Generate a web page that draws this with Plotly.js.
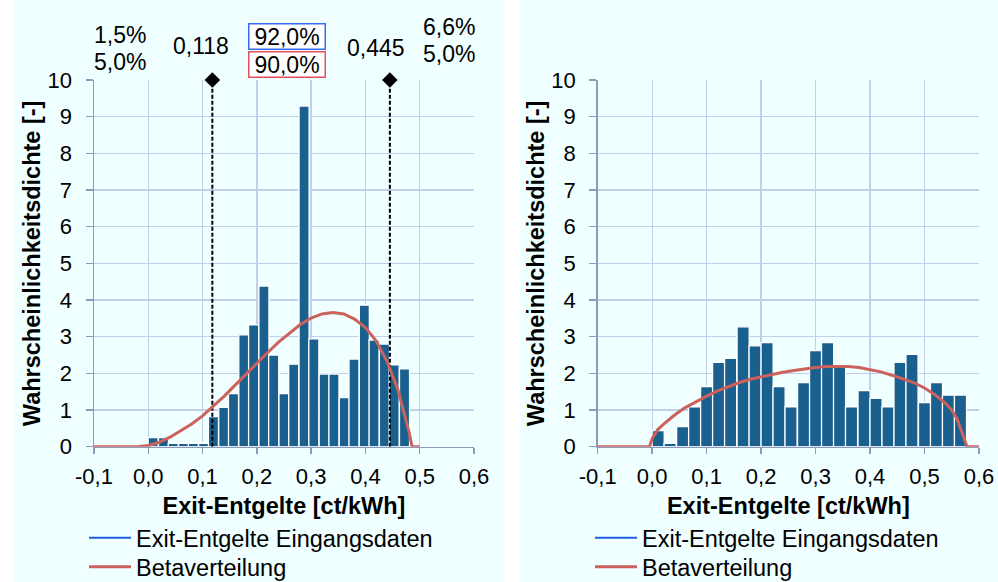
<!DOCTYPE html>
<html><head><meta charset="utf-8">
<script src="https://cdn.plot.ly/plotly-3.0.1.min.js"></script>
<style>
html,body{margin:0;padding:0;background:#fff}
#chart{width:998px;height:582px;
  background:linear-gradient(to right,#ffffff 0px,#ffffff 14px,#F0FFFF 14px,#F0FFFF 503px,#ffffff 503px,#ffffff 519px,#F0FFFF 519px,#F0FFFF 998px);}
</style>
</head><body><div id="chart"></div>
<script>
// ---------- data ----------
const binCentersL = [0.009,0.028,0.046,0.065,0.083,0.102,0.120,0.139,0.157,0.176,0.194,0.213,0.231,0.250,0.268,0.287,0.305,0.324,0.342,0.361,0.379,0.398,0.416,0.435,0.453,0.472];
const densityL    = [0.245,0.245,0.09,0.09,0.09,0.09,0.82,1.07,1.45,3.05,3.32,4.38,2.5,1.45,2.25,9.29,2.94,1.98,1.98,1.34,2.39,3.86,2.91,2.8,2.23,2.12];
const binCentersR = [0.011,0.033,0.056,0.078,0.100,0.122,0.144,0.167,0.189,0.211,0.233,0.255,0.278,0.300,0.322,0.344,0.366,0.389,0.411,0.433,0.455,0.477,0.500,0.522,0.544,0.566];
const densityR    = [0.44,0.09,0.55,1.09,1.64,2.3,2.41,3.27,2.75,2.84,1.64,1.09,1.75,2.62,2.84,2.18,1.09,1.53,1.32,1.09,2.3,2.52,1.2,1.75,1.41,1.41];
const betaLx = [-0.1,-0.02,0,0.02,0.04,0.06,0.08,0.10,0.12,0.14,0.16,0.18,0.20,0.22,0.24,0.26,0.28,0.30,0.32,0.34,0.36,0.38,0.40,0.42,0.44,0.46,0.47,0.48,0.486,0.5];
const betaLy = [0,0,0.03,0.12,0.26,0.43,0.62,0.84,1.1,1.38,1.68,1.98,2.27,2.57,2.85,3.1,3.33,3.51,3.62,3.66,3.62,3.48,3.25,2.88,2.32,1.55,1.02,0.42,0,0];
const betaRx = [-0.1,-0.005,0,0.005,0.01,0.02,0.04,0.06,0.08,0.10,0.12,0.14,0.16,0.18,0.20,0.22,0.24,0.26,0.28,0.30,0.32,0.34,0.36,0.38,0.40,0.42,0.44,0.46,0.48,0.50,0.52,0.54,0.55,0.56,0.565,0.57,0.575,0.578,0.6];
const betaRy = [0,0,0.22,0.36,0.46,0.6,0.85,1.06,1.23,1.38,1.52,1.64,1.75,1.84,1.91,1.97,2.03,2.08,2.13,2.16,2.19,2.2,2.19,2.16,2.11,2.04,1.95,1.86,1.75,1.6,1.41,1.16,1.0,0.75,0.55,0.32,0.12,0,0];
const quantX = [0.118, 0.445];
const quantLabels = ['0,118', '0,445'];
const tailLeft = ['1,5%', '5,0%'];
const tailRight = ['6,6%', '5,0%'];
const centralShares = ['92,0%', '90,0%'];
const seriesNames = ['Exit-Entgelte Eingangsdaten', 'Betaverteilung'];
const xTickVals = [-0.1, 0, 0.1, 0.2, 0.3, 0.4, 0.5, 0.6];
const xTickText = ['-0,1', '0,0', '0,1', '0,2', '0,3', '0,4', '0,5', '0,6'];
const xTitle = 'Exit-Entgelte [ct/kWh]';
const yTitle = 'Wahrscheinlichkeitsdichte [-]';
const yRange = [0, 10];
const xRange = [-0.1, 0.6];

// ---------- style ----------
const W = 998, H = 582;
const px = v => v / W, py = v => 1 - v / H;
const FONT = 'Liberation Sans, Arial, sans-serif';
const barColor = '#19608E', curveColor = '#CC625C', legendBlue = '#1F5FE6';
const gridC = '#C3CEE8', axisC = '#8C9BB9';

function xAxis(domain, anchor) {
  return {domain, anchor, range: xRange, tickmode: 'array', tickvals: xTickVals, ticktext: xTickText,
    showgrid: true, gridcolor: gridC, gridwidth: 1.3, zeroline: false,
    showline: true, linecolor: axisC, linewidth: 1.5, ticks: 'outside', ticklen: 6, tickcolor: axisC, tickwidth: 1.5,
    tickfont: {size: 22, color: '#000', family: FONT}, ticklabelstandoff: 3,
    title: {text: xTitle, font: {size: 23.5, weight: 700, color: '#000', family: FONT}, standoff: 10},
    fixedrange: true, automargin: false};
}
function yAxis(domain, anchor) {
  return {domain, anchor, range: yRange, dtick: 1,
    showgrid: true, gridcolor: gridC, gridwidth: 1.3, zeroline: false,
    showline: true, linecolor: axisC, linewidth: 1.5, ticks: 'outside', ticklen: 7, tickcolor: axisC, tickwidth: 1.5,
    tickfont: {size: 22, color: '#000', family: FONT}, ticklabelstandoff: 9,
    title: {text: yTitle, font: {size: 23.5, weight: 700, color: '#000', family: FONT}, standoff: 0},
    fixedrange: true, automargin: false};
}

const traces = [];
// left panel
traces.push({type: 'bar', x: binCentersL, y: densityL, width: 0.0185, xaxis: 'x', yaxis: 'y',
  marker: {color: barColor, line: {color: '#FFFFFF', width: 1.3}}, showlegend: false, hoverinfo: 'x+y'});
quantX.forEach(q => traces.push({type: 'scatter', mode: 'lines', x: [q, q], y: yRange, xaxis: 'x', yaxis: 'y',
  line: {color: '#000', width: 2, dash: '4px,2px'}, showlegend: false, hoverinfo: 'skip'}));
traces.push({type: 'scatter', mode: 'markers', x: quantX, y: quantX.map(() => yRange[1]), xaxis: 'x', yaxis: 'y',
  marker: {symbol: 'diamond', size: 12, color: '#000'}, cliponaxis: false, showlegend: false, hoverinfo: 'skip'});
traces.push({type: 'scatter', mode: 'lines', x: [null], y: [null], xaxis: 'x', yaxis: 'y', name: seriesNames[0],
  line: {color: legendBlue, width: 2}, legend: 'legend'});
traces.push({type: 'scatter', mode: 'lines', x: betaLx, y: betaLy, xaxis: 'x', yaxis: 'y', name: seriesNames[1],
  line: {color: curveColor, width: 3}, legend: 'legend2'});
// right panel
traces.push({type: 'bar', x: binCentersR, y: densityR, width: 0.0222, xaxis: 'x2', yaxis: 'y2',
  marker: {color: barColor, line: {color: '#FFFFFF', width: 1.3}}, showlegend: false, hoverinfo: 'x+y'});
traces.push({type: 'scatter', mode: 'lines', x: [null], y: [null], xaxis: 'x2', yaxis: 'y2', name: seriesNames[0],
  line: {color: legendBlue, width: 2}, legend: 'legend3'});
traces.push({type: 'scatter', mode: 'lines', x: betaRx, y: betaRy, xaxis: 'x2', yaxis: 'y2', name: seriesNames[1],
  line: {color: curveColor, width: 3}, legend: 'legend4'});

const yDom = [py(446.7), py(80)];
const annFont = {size: 23, color: '#000', family: FONT};
const ann = [
  {text: tailLeft[0], x: px(120), y: py(35)},
  {text: tailLeft[1], x: px(120), y: py(62)},
  {text: quantLabels[0], x: px(201), y: py(46)},
  {text: quantLabels[1], x: px(376), y: py(48)},
  {text: tailRight[0], x: px(449), y: py(27)},
  {text: tailRight[1], x: px(449), y: py(54)},
  {text: centralShares[0], x: px(286.5), y: py(36), bordercolor: '#3A6BEF', borderwidth: 1.5, bgcolor: '#FFFFFF', width: 73, height: 22, borderpad: 1},
  {text: centralShares[1], x: px(286.5), y: py(64), bordercolor: '#E4505C', borderwidth: 1.5, bgcolor: '#FFFFFF', width: 73, height: 22, borderpad: 1}
].map(a => Object.assign({xref: 'paper', yref: 'paper', showarrow: false, xanchor: 'center', yanchor: 'middle', font: annFont}, a));

const legendCommon = {xanchor: 'left', yanchor: 'top', bgcolor: 'rgba(0,0,0,0)', borderwidth: 0,
  font: {size: 23.5, color: '#000', family: FONT}, itemwidth: 42, tracegroupgap: 0, traceorder: 'normal', orientation: 'v'};
const leg = (x, y) => Object.assign({x: px(x), y: py(y)}, legendCommon);

const layout = {
  width: W, height: H, margin: {l: 0, r: 0, t: 0, b: 0, autoexpand: false},
  paper_bgcolor: 'rgba(0,0,0,0)', plot_bgcolor: 'rgba(0,0,0,0)',
  font: {family: FONT, color: '#000'},
  separators: ',.',
  bargap: 0, barmode: 'overlay',
  xaxis: xAxis([px(94), px(474)], 'y'),
  yaxis: yAxis(yDom, 'x'),
  xaxis2: xAxis([px(597.7), px(979)], 'y2'),
  yaxis2: yAxis(yDom, 'x2'),
  legend: leg(84, 516),
  legend2: leg(84, 545),
  legend3: leg(590, 516),
  legend4: leg(590, 545),
  annotations: ann,
  showlegend: true
};
Plotly.newPlot('chart', traces, layout, {displayModeBar: false, staticPlot: true});
</script></body></html>
